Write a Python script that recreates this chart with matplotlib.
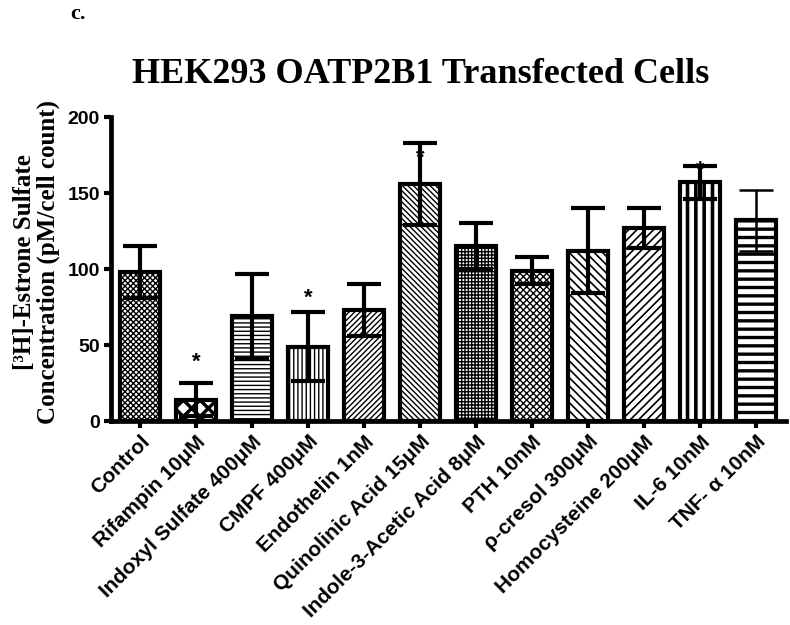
import matplotlib
matplotlib.use("Agg")
import matplotlib.pyplot as plt
import numpy as np

categories = ["Control", "Rifampin 10μM", "Indoxyl Sulfate 400μM", "CMPF 400μM",
              "Endothelin 1nM", "Quinolinic Acid 15μM", "Indole-3-Acetic Acid 8μM",
              "PTH 10nM", "ρ-cresol 300μM", "Homocysteine 200μM", "IL-6 10nM",
              "TNF- α 10nM"]
means = [98, 14, 69, 49, 73, 156, 115, 99, 112, 127, 157, 132]
sems = [17, 11, 28, 23, 17, 27, 15, 9, 28, 13, 11, 20]
hatches = ["xxxxxx", "xx", "----", "||||", "//////", "\\\\\\\\\\\\",
           "+++++", "xxxxx", "\\\\\\\\", "////", "||", "--"]
hatch_lws = [1.0, 2.5, 1.0, 1.0, 1.0, 1.0, 1.0, 1.0, 1.2, 1.2, 2.6, 2.4]
star_idx = [1, 3, 5, 10]
star_y = [39, 81, 173, 165]
yticks = [0, 50, 100, 150, 200]

fig = plt.figure(figsize=(7.9, 6.25), dpi=100)
ax = fig.add_axes([0.1405, 0.3264, 0.995 - 0.1405, 0.8128 - 0.3264])

x = np.arange(len(categories))
for i in range(len(categories)):
    with plt.rc_context({"hatch.linewidth": hatch_lws[i]}):
        bars = ax.bar(x[i], means[i], width=0.7, color="white", edgecolor="black",
                      linewidth=3.0, hatch=hatches[i], zorder=2)
    for b in bars:
        try:
            b.set_hatch_linewidth(hatch_lws[i])
        except AttributeError:
            pass
    lw = 1.8 if i == len(categories) - 1 else 3.0
    ax.errorbar(x[i], means[i], yerr=sems[i], fmt="none", ecolor="black",
                elinewidth=lw, capsize=12, capthick=lw, zorder=3)

for i, yv in zip(star_idx, star_y):
    ax.text(x[i], yv, "*", ha="center", va="center", fontsize=16,
            fontweight="bold", family="Liberation Sans", zorder=4)

ax.set_xlim(-0.518, 11.536)
ax.set_ylim(0, 200)
ax.set_yticks(yticks)
ax.set_yticklabels([str(v) for v in yticks], fontsize=14, fontweight="bold",
                   family="Liberation Sans")
ax.set_xticks(x)
ax.set_xticklabels(categories, rotation=45, ha="right", rotation_mode="anchor",
                   fontsize=15, fontweight="bold", family="Liberation Sans")
ax.tick_params(axis="both", width=3, length=5, direction="out", pad=3)
for s in ["top", "right"]:
    ax.spines[s].set_visible(False)
for s in ["left", "bottom"]:
    ax.spines[s].set_linewidth(3.4)

ax.set_ylabel("[³H]-Estrone Sulfate\nConcentration (pM/cell count)",
              fontsize=18, fontweight="bold", family="Liberation Serif",
              linespacing=1.05)
ax.yaxis.set_label_coords(-0.075, 0.523)

fig.text(0.532, 0.881, "HEK293 OATP2B1 Transfected Cells", ha="center",
         va="center", fontsize=26, fontweight="bold", family="Liberation Serif")
fig.text(0.099, 0.977, "c.", ha="center", va="center", fontsize=16,
         fontweight="bold", family="Liberation Serif")

fig.savefig("out.png", dpi=100)
